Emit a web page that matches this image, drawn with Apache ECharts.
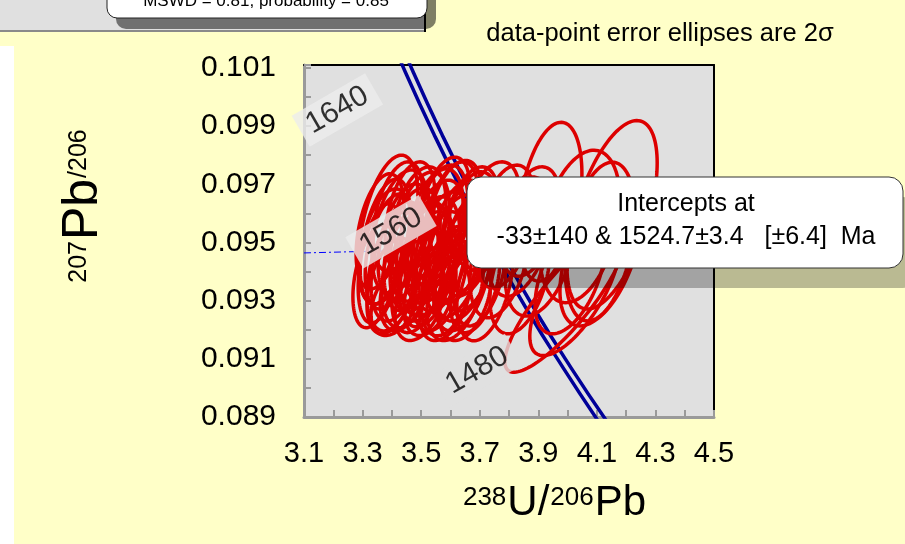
<!DOCTYPE html>
<html>
<head>
<meta charset="utf-8">
<style>
  html, body { margin: 0; padding: 0; background: #FFFFC8; }
  #chart { width: 905px; height: 544px; }
</style>
<script src="https://cdn.jsdelivr.net/npm/echarts@6/dist/echarts.min.js"></script>
</head>
<body>
<div id="chart"></div>
<script>
// Tera-Wasserburg concordia diagram: 238U/206Pb vs 207Pb/206Pb with 2-sigma error ellipses

// Axis tick labels
const xTickLabels = ['3.1', '3.3', '3.5', '3.7', '3.9', '4.1', '4.3', '4.5'];
const yTickLabels = ['0.089', '0.091', '0.093', '0.095', '0.097', '0.099', '0.101'];

// Error ellipses: centre (238U/206Pb, 207Pb/206Pb), 2-sigma half widths, error correlation
const ellX   = [3.387, 3.377, 3.564, 3.667, 3.786, 3.872, 3.940, 4.042, 4.111, 4.152,
                3.991, 4.025, 4.008, 3.837, 3.718, 4.111, 3.411, 3.462, 3.513, 3.360,
                3.564, 3.616, 3.496, 3.428, 3.547, 3.599, 3.650, 3.462, 3.667, 3.769,
                3.616, 3.530, 3.906, 3.735, 3.394, 3.581, 3.837, 3.496, 3.684, 3.445,
                3.377, 3.421, 3.469, 3.523, 3.571, 3.626, 3.342, 3.400, 3.489, 3.592,
                3.639, 3.547, 3.489, 3.616, 3.421, 3.667, 3.360, 3.530, 3.445, 3.650,
                3.581, 3.411, 3.496, 3.701];
const ellY   = [0.09544, 0.09503, 0.09555, 0.09538, 0.09555, 0.09572, 0.09640, 0.09555, 0.09503, 0.09595,
                0.09299, 0.09333, 0.09384, 0.09384, 0.09367, 0.09452, 0.09401, 0.09418, 0.09428, 0.09428,
                0.09401, 0.09452, 0.09520, 0.09538, 0.09503, 0.09572, 0.09435, 0.09589, 0.09538, 0.09452,
                0.09333, 0.09333, 0.09469, 0.09589, 0.09469, 0.09623, 0.09520, 0.09452, 0.09367, 0.09350,
                0.09486, 0.09435, 0.09476, 0.09408, 0.09469, 0.09503, 0.09384, 0.09350, 0.09367, 0.09367,
                0.09384, 0.09555, 0.09555, 0.09612, 0.09589, 0.09469, 0.09538, 0.09452, 0.09503, 0.09316,
                0.09299, 0.09299, 0.09299, 0.09418];
const ellSX  = [0.102, 0.085, 0.096, 0.102, 0.102, 0.102, 0.109, 0.137, 0.119, 0.154,
                0.205, 0.154, 0.119, 0.102, 0.096, 0.137, 0.096, 0.096, 0.092, 0.075,
                0.096, 0.102, 0.102, 0.096, 0.102, 0.096, 0.102, 0.085, 0.096, 0.102,
                0.096, 0.089, 0.119, 0.102, 0.085, 0.085, 0.109, 0.102, 0.085, 0.085,
                0.089, 0.092, 0.096, 0.096, 0.096, 0.102, 0.075, 0.085, 0.089, 0.092,
                0.096, 0.096, 0.096, 0.089, 0.085, 0.096, 0.082, 0.102, 0.092, 0.089,
                0.085, 0.082, 0.085, 0.092];
const ellSY  = [0.00256, 0.00215, 0.00211, 0.00222, 0.00211, 0.00188, 0.00273, 0.00262, 0.00273, 0.00324,
                0.00245, 0.00222, 0.00198, 0.00198, 0.00205, 0.00239, 0.00205, 0.00211, 0.00198, 0.00205,
                0.00205, 0.00211, 0.00222, 0.00211, 0.00211, 0.00205, 0.00205, 0.00188, 0.00205, 0.00211,
                0.00170, 0.00153, 0.00222, 0.00188, 0.00198, 0.00170, 0.00205, 0.00188, 0.00177, 0.00153,
                0.00198, 0.00205, 0.00211, 0.00198, 0.00205, 0.00211, 0.00177, 0.00164, 0.00177, 0.00188,
                0.00188, 0.00198, 0.00205, 0.00170, 0.00188, 0.00205, 0.00198, 0.00205, 0.00198, 0.00153,
                0.00136, 0.00119, 0.00136, 0.00205];
const ellRho = [0.45, 0.45, 0.40, 0.40, 0.40, 0.40, 0.35, 0.35, 0.35, 0.55,
                0.85, 0.70, 0.50, 0.40, 0.40, 0.50, 0.40, 0.40, 0.40, 0.40,
                0.40, 0.40, 0.40, 0.40, 0.45, 0.45, 0.45, 0.40, 0.40, 0.40,
                0.40, 0.40, 0.40, 0.40, 0.40, 0.40, 0.40, 0.40, 0.40, 0.40,
                0.40, 0.40, 0.40, 0.40, 0.40, 0.40, 0.40, 0.40, 0.40, 0.40,
                0.40, 0.40, 0.40, 0.40, 0.40, 0.40, 0.40, 0.40, 0.40, 0.40,
                0.40, 0.40, 0.40, 0.40];

// Concordia with decay-constant error band (two bounding curves), points every 40 Ma
const concAges   = [1680, 1640, 1600, 1560, 1520, 1480, 1440, 1400];
const concY      = [0.10306, 0.10086, 0.09872, 0.09663, 0.09459, 0.09261, 0.09069, 0.08881];
const concLeftX  = [3.3529, 3.4459, 3.5437, 3.6465, 3.7547, 3.8660, 3.9850, 4.1080];
const concRightX = [3.3799, 3.4729, 3.5707, 3.6735, 3.7817, 3.8930, 4.0120, 4.1370];

// Regression line (discordia) through the intercepts
const discordX = [3.1, 4.5];
const discordY = [0.09464, 0.09499];

// Age labels along the concordia (Ma) and where they sit
const ageLabels = ['1640', '1560', '1480'];
const ageLabelX = [3.214, 3.397, 3.691];
const ageLabelY = [0.09955, 0.09537, 0.09060];
const ageLabelBg = ['#ECECEC', '#ECECEC', '#E0E0E0'];

const FONT = '"Liberation Sans", Arial, sans-serif';

const chart = echarts.init(document.getElementById('chart'), null, { renderer: 'canvas' });

const ellipseData = ellX.map((x, i) => [x, ellY[i], ellSX[i], ellSY[i], ellRho[i]]);
const labelData = ageLabels.map((t, i) => ({
  value: [ageLabelX[i], ageLabelY[i], t],
  label: { backgroundColor: ageLabelBg[i] }
}));

function bandLine(xs) {
  return xs.map((x, i) => [x, concY[i]]);
}

// show a label only on the listed ticks (and never on an off-grid axis end)
function tickFormatter(list, digits) {
  return v => {
    const s = v.toFixed(digits);
    return (list.includes(s) && Math.abs(v - parseFloat(s)) < 1e-9) ? s : '';
  };
}

const option = {
  backgroundColor: '#FFFFC8',
  animation: false,
  grid: {
    left: 304, right: 191, top: 65, bottom: 127,
    show: true, backgroundColor: '#E0E0E0', borderWidth: 0
  },
  xAxis: [{
    type: 'value', min: 3.1, max: 4.5, interval: 0.1, position: 'bottom',
    axisLine: { show: true, onZero: false, lineStyle: { color: '#9A9A9A', width: 3 } },
    axisTick: { show: true, inside: true, length: 7, lineStyle: { color: '#9A9A9A', width: 2 } },
    axisLabel: { margin: 22, formatter: tickFormatter(xTickLabels, 1), fontFamily: FONT, fontSize: 29, color: '#000' },
    splitLine: { show: false }
  }, {
    type: 'value', min: 3.1, max: 4.5, position: 'top',
    axisLine: { show: true, onZero: false, lineStyle: { color: '#000', width: 2 } },
    axisTick: { show: false }, axisLabel: { show: false }, splitLine: { show: false }
  }],
  yAxis: [{
    type: 'value', min: 0.089, max: 0.1011, interval: 0.001, position: 'left',
    axisLine: { show: true, onZero: false, lineStyle: { color: '#9A9A9A', width: 3 } },
    axisTick: { show: true, inside: true, length: 7, lineStyle: { color: '#9A9A9A', width: 2 } },
    axisLabel: { margin: 28, formatter: tickFormatter(yTickLabels, 3), fontFamily: FONT, fontSize: 30, color: '#000' },
    splitLine: { show: false }
  }, {
    type: 'value', min: 0.089, max: 0.1011, position: 'right',
    axisLine: { show: true, onZero: false, lineStyle: { color: '#000', width: 2 } },
    axisTick: { show: false }, axisLabel: { show: false }, splitLine: { show: false }
  }],
  series: [
    {
      type: 'line', name: 'concordia-left', data: bandLine(concLeftX),
      smooth: true, symbol: 'none', clip: true, z: 2,
      lineStyle: { color: '#000099', width: 3.5 }
    },
    {
      type: 'line', name: 'concordia-right', data: bandLine(concRightX),
      smooth: true, symbol: 'none', clip: true, z: 2,
      lineStyle: { color: '#000099', width: 3.5 }
    },
    {
      type: 'line', name: 'discordia', data: discordX.map((x, i) => [x, discordY[i]]),
      symbol: 'none', clip: true, z: 2,
      lineStyle: { color: '#0000FF', width: 1, type: [7, 3, 2, 3] }
    },
    {
      type: 'custom', name: 'ellipses', data: ellipseData, z: 3, clip: true,
      encode: { x: 0, y: 1 },
      renderItem: (params, api) => {
        const cx = api.value(0), cy = api.value(1);
        const sx = api.value(2), sy = api.value(3), r = api.value(4);
        const k = Math.sqrt(1 - r * r);
        const pts = [];
        const n = 120;
        for (let i = 0; i < n; i++) {
          const t = (i / n) * Math.PI * 2;
          pts.push(api.coord([cx + sx * Math.cos(t), cy + sy * (r * Math.cos(t) + k * Math.sin(t))]));
        }
        return {
          type: 'polygon', shape: { points: pts },
          style: { fill: 'none', stroke: '#DD0000', lineWidth: 3.5 }
        };
      }
    },
    {
      type: 'scatter', name: 'age labels', data: labelData, z: 5,
      symbolSize: 1, itemStyle: { color: 'rgba(0,0,0,0)' },
      label: {
        show: true, position: 'inside', rotate: 30,
        formatter: p => p.value[2],
        fontFamily: FONT, fontSize: 30, color: '#000',
        padding: [3, 9, 3, 9]
      }
    }
  ],
  graphic: [
    // white strip along the left edge
    { type: 'rect', z: 50, shape: { x: 0, y: 46, width: 14, height: 498 }, style: { fill: '#FFFFFF' } },
    // lower edge of the panel above
    { type: 'rect', z: 50, shape: { x: 0, y: 0, width: 425, height: 31 }, style: { fill: '#E0E0E0' } },
    { type: 'line', z: 51, shape: { x1: 0, y1: 31, x2: 425, y2: 31 }, style: { stroke: '#8A8A8A', lineWidth: 2 } },
    { type: 'line', z: 51, shape: { x1: 425, y1: 0, x2: 425, y2: 32 }, style: { stroke: '#000', lineWidth: 2 } },
    // MSWD box
    { type: 'rect', z: 52, shape: { x: 116, y: -30, width: 320, height: 59, r: 10 }, style: { fill: 'rgba(0,0,0,0.5)' } },
    { type: 'rect', z: 53, shape: { x: 107, y: -40, width: 320, height: 58, r: 10 }, style: { fill: '#FFFFFF', stroke: '#222', lineWidth: 1 } },
    { type: 'text', z: 54, x: 266, y: 1, style: { text: 'MSWD = 0.81, probability = 0.85', fontFamily: FONT, fontSize: 17, fill: '#000', align: 'center', verticalAlign: 'middle' } },
    // ellipse caption
    { type: 'text', z: 54, x: 660, y: 34, style: { text: 'data-point error ellipses are 2σ', fontFamily: FONT, fontSize: 25.5, fill: '#000', align: 'center', verticalAlign: 'middle' } },
    // intercepts box
    { type: 'rect', z: 60, shape: { x: 481, y: 197, width: 436, height: 91, r: 14 }, style: { fill: 'rgba(0,0,0,0.27)' } },
    { type: 'rect', z: 61, shape: { x: 467, y: 177, width: 436, height: 91, r: 14 }, style: { fill: '#FFFFFF', stroke: '#333', lineWidth: 1 } },
    { type: 'text', z: 62, x: 686, y: 204, style: { text: 'Intercepts at', fontFamily: FONT, fontSize: 25, fill: '#000', align: 'center', verticalAlign: 'middle' } },
    { type: 'text', z: 62, x: 686, y: 237, style: { text: '-33±140 & 1524.7±3.4   [±6.4]  Ma', fontFamily: FONT, fontSize: 25, fill: '#000', align: 'center', verticalAlign: 'middle' } },
    // axis titles
    { type: 'text', z: 54, x: 554, y: 503, style: {
        text: '{sup|238}{big|U/}{sup|206}{big|Pb}', align: 'center', verticalAlign: 'middle',
        rich: {
          big: { fontFamily: FONT, fontSize: 42, fill: '#000', verticalAlign: 'bottom', lineHeight: 42 },
          sup: { fontFamily: FONT, fontSize: 26, fill: '#000', verticalAlign: 'top', lineHeight: 26, padding: [3, 1, 0, 1] }
        }
    } },
    { type: 'text', z: 54, x: 83, y: 206, rotation: Math.PI / 2, style: {
        text: '{sup|207}{big|Pb}{sup|/206}', align: 'center', verticalAlign: 'middle',
        rich: {
          big: { fontFamily: FONT, fontSize: 50, fill: '#000', verticalAlign: 'bottom', lineHeight: 50 },
          sup: { fontFamily: FONT, fontSize: 25, fill: '#000', verticalAlign: 'top', lineHeight: 25, padding: [9, 1, 0, 1] }
        }
    } }
  ]
};

chart.setOption(option);
</script>
</body>
</html>
